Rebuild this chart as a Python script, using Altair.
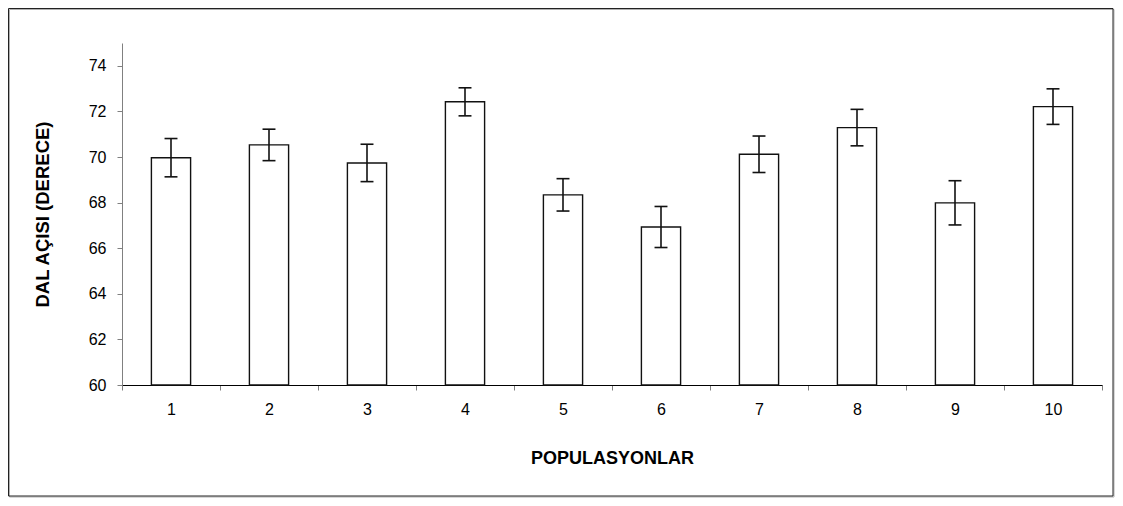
import altair as alt
import pandas as pd

populations = [1, 2, 3, 4, 5, 6, 7, 8, 9, 10]
means = [69.97, 70.53, 69.74, 72.42, 68.34, 66.93, 70.12, 71.29, 67.99, 72.21]
errors = [0.84, 0.69, 0.82, 0.615, 0.71, 0.90, 0.80, 0.80, 0.97, 0.78]
y_ticks = [60, 62, 64, 66, 68, 70, 72, 74]
x_ticks = [0.5, 1, 1.5, 2, 2.5, 3, 3.5, 4, 4.5, 5, 5.5, 6, 6.5, 7, 7.5,
           8, 8.5, 9, 9.5, 10, 10.5]

df = pd.DataFrame({"pop": populations, "mean": means, "err": errors})

FONT = "Liberation Sans"

xscale = alt.Scale(domain=[0.5, 10.5], nice=False, zero=False)
yscale = alt.Scale(domain=[60, 75], nice=False, zero=False)

xaxis = alt.Axis(
    values=x_ticks,
    format=".0f",
    labelExpr="datum.value % 1 === 0 ? datum.label : ''",
    tickOpacity={"condition": {"test": "datum.value % 1 === 0", "value": 0}, "value": 1},
    title="POPULASYONLAR",
    grid=False,
    domainColor="#000000",
    tickColor="#808080",
    tickSize=5,
    labelPadding=11,
    labelFont=FONT,
    labelFontSize=16,
    labelColor="#000000",
    titleFont=FONT,
    titleFontSize=18,
    titleFontWeight="bold",
    titleColor="#000000",
    titlePadding=32,
)
yaxis = alt.Axis(
    values=y_ticks,
    title="DAL AÇISI (DERECE)",
    grid=False,
    domainColor="#808080",
    tickColor="#808080",
    tickSize=5,
    labelPadding=11,
    labelFont=FONT,
    labelFontSize=16,
    labelColor="#000000",
    titleFont=FONT,
    titleFontSize=18.5,
    titleFontWeight="bold",
    titleColor="#000000",
    titlePadding=36,
)

base = alt.Chart(df).transform_calculate(
    x_lo="datum.pop - 0.2",
    x_hi="datum.pop + 0.2",
    c_lo="datum.pop - 0.066",
    c_hi="datum.pop + 0.066",
    e_lo="datum.mean - datum.err",
    e_hi="datum.mean + datum.err",
    y0="60",
)

bars = base.mark_rect(fill="white", stroke="#111111", strokeWidth=1.4).encode(
    x=alt.X("x_lo:Q", scale=xscale, axis=xaxis),
    x2="x_hi:Q",
    y=alt.Y("mean:Q", scale=yscale, axis=yaxis),
    y2="y0:Q",
)

stems = base.mark_rule(color="#111111", strokeWidth=1.6).encode(
    x="pop:Q", y="e_lo:Q", y2="e_hi:Q"
)
cap_top = base.mark_rule(color="#111111", strokeWidth=1.6).encode(
    x="c_lo:Q", x2="c_hi:Q", y="e_hi:Q"
)
cap_bot = base.mark_rule(color="#111111", strokeWidth=1.6).encode(
    x="c_lo:Q", x2="c_hi:Q", y="e_lo:Q"
)

frame_df = pd.DataFrame({"a": [0]})
shadow = alt.Chart(frame_df).mark_rect(fill=None, stroke="#b0b0b0", strokeWidth=1).encode(
    x=alt.value(-112.5), x2=alt.value(992.0), y=alt.value(-33.5), y2=alt.value(454.0)
)
frame = alt.Chart(frame_df).mark_rect(fill=None, stroke="#222222", strokeWidth=1).encode(
    x=alt.value(-113.5), x2=alt.value(991.0), y=alt.value(-34.5), y2=alt.value(453.0)
)

chart = alt.layer(shadow, frame, bars, stems, cap_top, cap_bot).properties(
    width=980,
    height=342,
    autosize=alt.AutoSizeParams(type="none"),
    padding={"left": 114, "top": 35, "right": 13, "bottom": 113},
    background="white",
).configure_view(stroke=None)

chart.save("out.html", embed_options={"renderer": "svg", "actions": False})
